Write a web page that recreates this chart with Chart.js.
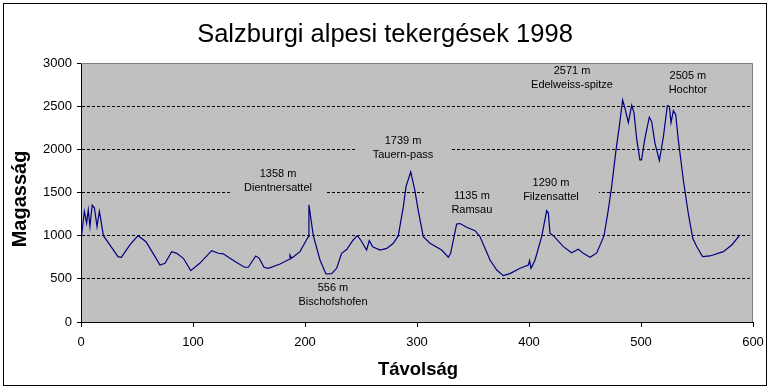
<!DOCTYPE html>
<html>
<head>
<meta charset="utf-8">
<script src="https://cdn.jsdelivr.net/npm/chart.js@4.4.1/dist/chart.umd.min.js"></script>
<style>
  body { margin: 0; background: #fff; }
  canvas { display: block; }
</style>
</head>
<body>
<canvas id="profileChart" width="772" height="391"></canvas>
<script>
// track profile: distance (km) and elevation (m)
var distance = [0.5, 3, 5, 6.5, 8, 10, 12, 14.3, 16.4, 17.5, 20, 27, 33, 36, 44, 51, 58, 65, 70.5, 75,
  81, 85.5, 91.4, 98, 106, 116.7, 122.6, 127, 137.5, 146, 149.4, 156, 159, 163.4, 167.3, 177.7, 186, 186.6, 188, 195.5,
  203, 203.5, 207.4, 213.4, 218.7, 223.8, 228.3, 232.7, 237.2, 243, 246.7, 249.7, 255, 257.4, 260.4, 267, 273, 278.9, 283.3, 287.8,
  290.2, 294.4, 298, 301, 305.6, 311.6, 322, 328, 330, 335.4, 338.4, 344.4, 351.8, 356.3, 365.2, 371.2, 377, 383, 392, 399.4,
  400.5, 401.8, 405.4, 411.3, 415.8, 417.3, 418.7, 421.7, 430.7, 438, 444, 448.5, 454.5, 460.5, 467, 470.8, 473.8, 477.7,
  480.6, 483.6, 485.7, 488.7, 491.7, 493.8, 496.1, 499, 500.5, 503.5, 507.4, 509.5, 512.5, 516.4, 520, 523.5, 525.3, 526.8,
  528.9, 531, 533.3, 537.8, 542.2, 546.2, 549.7, 555, 561.6, 573.5, 581, 588.4];
var elevation = [1000, 1280, 1145, 1300, 1105, 1355, 1320, 1105, 1280, 1200, 1000, 870, 757, 750, 900, 1000, 930, 780, 660, 680,
  815, 795, 738, 595, 680, 826, 796, 790, 700, 634, 634, 765, 740, 634, 622, 672, 727, 775, 738, 815,
  990, 1358, 1000, 718, 556, 560, 622, 796, 840, 950, 1000, 950, 834, 942, 870, 834, 853, 912, 1000, 1336,
  1568, 1739, 1530, 1298, 988, 912, 834, 750, 795, 1135, 1140, 1097, 1058, 988, 718, 602, 537, 560, 622, 660,
  710, 622, 718, 988, 1290, 1260, 1028, 1000, 873, 803, 842, 795, 750, 800, 1000, 1298, 1568, 1993,
  2263, 2571, 2475, 2309, 2510, 2420, 2126, 1877, 1877, 2126, 2372, 2320, 2070, 1869, 2147, 2505, 2500, 2309,
  2448, 2400, 2109, 1645, 1260, 970, 874, 757, 765, 815, 892, 1008];

// named points
var peakNames = ['Dientnersattel', 'Tauern-pass', 'Bischofshofen', 'Ramsau', 'Filzensattel', 'Edelweiss-spitze', 'Hochtor'];
var peakHeights = [1358, 1739, 556, 1135, 1290, 2571, 2505];
// where the label boxes sit, in data units (km, m)
var labelAtX = [175.9, 287.5, 225, 349, 419.6, 438.4, 541.9];
var labelAtY = [1633, 2021, 313, 1378, 1535, 2832, 2768];

var yTicks = [0, 500, 1000, 1500, 2000, 2500, 3000];
var xTicks = [0, 100, 200, 300, 400, 500, 600];

var fontFam = '"Liberation Sans", Arial, sans-serif';
Chart.defaults.font.family = fontFam;
Chart.defaults.color = '#000';

var points = distance.map(function (d, i) { return { x: d, y: elevation[i] }; });

var decor = {
  id: 'decor',
  beforeDraw: function (chart) {
    var ctx = chart.ctx, a = chart.chartArea;
    ctx.save();
    ctx.fillStyle = '#fff';
    ctx.fillRect(0, 0, chart.width, chart.height);
    ctx.fillStyle = '#c0c0c0';
    ctx.fillRect(a.left, a.top, a.right - a.left, a.bottom - a.top);
    ctx.restore();
  },
  beforeDatasetsDraw: function (chart) {
    var ctx = chart.ctx, a = chart.chartArea;
    var sx = chart.scales.x, sy = chart.scales.y;
    ctx.save();
    // peak labels, their grey boxes hide the grid behind them
    ctx.save();
    ctx.beginPath();
    ctx.rect(a.left + 1, a.top + 1, a.right - a.left - 2, a.bottom - a.top - 2);
    ctx.clip();
    ctx.font = '11px ' + fontFam;
    ctx.textAlign = 'center';
    ctx.textBaseline = 'middle';
    for (var i = 0; i < peakNames.length; i++) {
      var cx = sx.getPixelForValue(labelAtX[i]);
      var cy = sy.getPixelForValue(labelAtY[i]);
      var h = i === 2 ? 28 : 34;
      ctx.fillStyle = '#c0c0c0';
      ctx.fillRect(cx - 48, cy - h / 2, 96, h);
      ctx.fillStyle = '#000';
      ctx.fillText(peakHeights[i] + ' m', cx, cy - 7);
      ctx.fillText(peakNames[i], cx, cy + 7);
    }
    ctx.restore();
    // grey plot border top / right
    ctx.strokeStyle = '#808080';
    ctx.lineWidth = 1;
    ctx.beginPath();
    ctx.moveTo(a.left, a.top + 0.5);
    ctx.lineTo(a.right - 0.5, a.top + 0.5);
    ctx.lineTo(a.right - 0.5, a.bottom);
    ctx.stroke();
    ctx.restore();
  },
  afterDraw: function (chart) {
    var ctx = chart.ctx;
    ctx.save();
    ctx.strokeStyle = '#000';
    ctx.lineWidth = 1;
    ctx.strokeRect(3.5, 3.5, 763, 382);
    ctx.fillStyle = '#000';
    ctx.textAlign = 'center';
    ctx.textBaseline = 'middle';
    ctx.font = '25.5px ' + fontFam;
    ctx.fillText('Salzburgi alpesi tekergések 1998', 385, 35);
    ctx.font = 'bold 18.5px ' + fontFam;
    ctx.fillText('Távolság', 418, 370);
    ctx.font = 'bold 20px ' + fontFam;
    ctx.translate(20, 199);
    ctx.rotate(-Math.PI / 2);
    ctx.fillText('Magasság', 0, 0);
    ctx.restore();
  }
};

new Chart(document.getElementById('profileChart'), {
  type: 'line',
  data: {
    datasets: [{
      label: 'Magasság',
      data: points,
      borderColor: '#000080',
      borderWidth: 1.2,
      pointRadius: 0,
      tension: 0,
      fill: false
    }]
  },
  options: {
    responsive: false,
    animation: false,
    layout: { padding: { left: 0, top: 63, right: 19, bottom: 0 } },
    plugins: { legend: { display: false }, title: { display: false }, tooltip: { enabled: false } },
    scales: {
      x: {
        type: 'linear',
        min: 0, max: 600,
        afterFit: function (s) { s.height = 69; },
        afterBuildTicks: function (s) { s.ticks = xTicks.map(function (v) { return { value: v }; }); },
        border: { color: '#000', width: 1 },
        grid: { drawOnChartArea: false, drawTicks: true, tickLength: 5, tickColor: '#000' },
        ticks: { padding: 8, maxRotation: 0, font: { size: 13 }, color: '#000',
          callback: function (v) { return String(v); } }
      },
      y: {
        min: 0, max: 3000,
        afterFit: function (s) { s.width = 81; },
        afterBuildTicks: function (s) { s.ticks = yTicks.map(function (v) { return { value: v }; }); },
        border: { color: '#000', width: 1, dash: [3, 2] },
        grid: {
          color: function (c) { return (c.tick && (c.tick.value === 0 || c.tick.value === 3000)) ? 'rgba(0,0,0,0)' : '#000'; },
          tickBorderDash: [],
          tickColor: '#000',
          tickLength: 4,
          lineWidth: 1
        },
        ticks: { padding: 5, font: { size: 13 }, color: '#000',
          callback: function (v) { return String(v); } }
      }
    }
  },
  plugins: [decor]
});
</script>
</body>
</html>
